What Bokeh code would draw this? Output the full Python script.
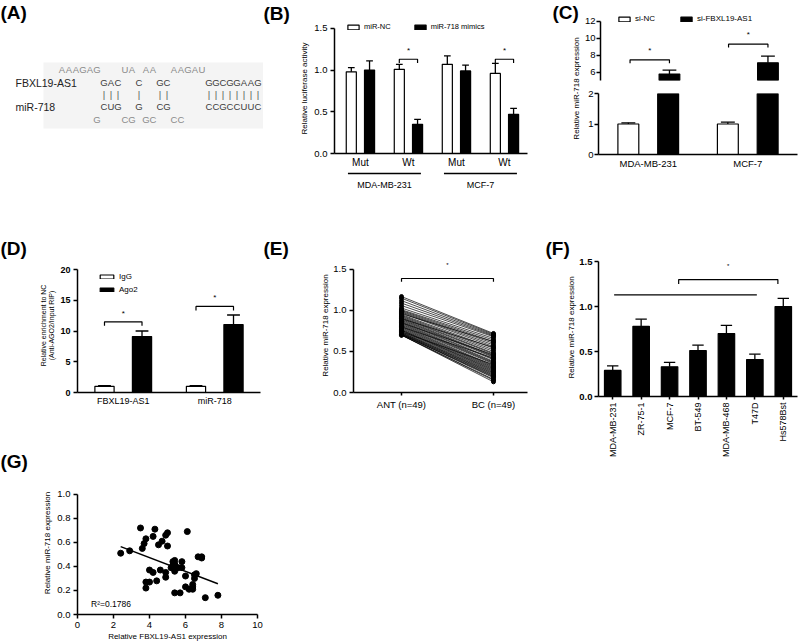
import math
from bokeh.plotting import figure
from bokeh.models import Range1d, FixedTicker, NumeralTickFormatter, Label, Legend, LegendItem, Title
from bokeh.layouts import row, column
from bokeh.embed import file_html
from bokeh.resources import INLINE
from bokeh.core.properties import value

FONT = "Liberation Sans"

# ---------------- data ----------------
A_rows = ["AAAGAG   UA AA  AAGAU",
          "      GAC  C  GC     GGCGGAAG",
          "      |||  |  ||     ||||||||",
          "      CUG  G  CG     CCGCCUUC",
          "     G   CG GC  CC"]
A_names = ["FBXL19-AS1", "miR-718"]

B_sites = ["Mut", "Wt", "Mut", "Wt"]
B_cells = ["MDA-MB-231", "MCF-7"]
B_series = ["miR-NC", "miR-718 mimics"]
B_nc = [0.98, 1.01, 1.07, 0.96]
B_nc_err = [0.05, 0.06, 0.10, 0.12]
B_mim = [1.00, 0.35, 0.99, 0.47]
B_mim_err = [0.11, 0.06, 0.07, 0.07]
B_sig_pairs = [1, 3]
B_sig_y = [1.13, 1.13]
B_yticks = [0.0, 0.5, 1.0, 1.5]

C_cells = ["MDA-MB-231", "MCF-7"]
C_series = ["si-NC", "si-FBXL19-AS1"]
C_nc = [1.0, 1.0]
C_nc_err = [0.04, 0.06]
C_si = [5.77, 7.1]
C_si_err = [0.46, 0.8]
C_sig_y = [7.45, 9.3]
C_yticks_low = [0, 1, 2]
C_yticks_up = [6, 8, 10, 12]

D_targets = ["FBXL19-AS1", "miR-718"]
D_series = ["IgG", "Ago2"]
D_igg = [1.0, 1.0]
D_igg_err = [0.1, 0.1]
D_ago = [9.1, 11.06]
D_ago_err = [0.9, 1.54]
D_sig_y = [11.5, 14.0]
D_yticks = [0, 5, 10, 15, 20]

E_groups = ["ANT (n=49)", "BC (n=49)"]
E_ant = [1.17, 1.15, 1.12, 1.09, 1.06, 1.03, 1.01, 1.00, 0.99, 0.98,
         0.97, 0.96, 0.95, 0.94, 0.93, 0.92, 0.91, 0.90, 0.90, 0.89,
         0.88, 0.87, 0.86, 0.85, 0.85, 0.84, 0.83, 0.82, 0.81, 0.80,
         0.80, 0.79, 0.78, 0.77, 0.76, 0.76, 0.75, 0.74, 0.74, 0.73,
         0.73, 0.72, 0.72, 0.71, 0.71, 0.71, 0.70, 0.70, 0.70]
E_bc = [0.72, 0.71, 0.70, 0.69, 0.68, 0.66, 0.64, 0.62, 0.60, 0.58,
        0.56, 0.62, 0.54, 0.52, 0.50, 0.48, 0.47, 0.45, 0.55, 0.44,
        0.43, 0.41, 0.40, 0.38, 0.46, 0.37, 0.36, 0.35, 0.33, 0.32,
        0.42, 0.31, 0.30, 0.29, 0.28, 0.27, 0.26, 0.25, 0.34, 0.24,
        0.23, 0.22, 0.21, 0.20, 0.19, 0.18, 0.16, 0.15, 0.13]
E_sig_y = 1.39
E_yticks = [0.0, 0.5, 1.0, 1.5]

F_lines = ["MDA-MB-231", "ZR-75-1", "MCF-7", "BT-549", "MDA-MB-468", "T47D", "Hs578Bst"]
F_vals = [0.29, 0.78, 0.33, 0.51, 0.70, 0.41, 1.00]
F_err = [0.05, 0.08, 0.05, 0.06, 0.09, 0.06, 0.09]
F_line_span = [0.05, 5.07]
F_line_y = 1.13
F_br_span = [2.32, 5.81]
F_br_y = 1.30
F_yticks = [0.0, 0.5, 1.0, 1.5]

G_x = [2.4, 2.9, 3.5, 3.6, 3.7, 3.8, 3.8, 3.8, 4.0, 4.0,
       4.2, 4.2, 4.3, 4.4, 4.5, 4.6, 4.7, 4.9, 5.0, 5.0,
       4.9, 4.9, 5.2, 5.3, 5.4, 5.4, 5.4, 5.5, 5.4, 5.6,
       5.7, 5.8, 5.8, 6.0, 6.0, 6.1, 6.2, 6.4, 6.4, 6.5,
       6.5, 6.6, 6.7, 6.9, 6.9, 7.1, 7.8, 6.4, 5.3]
G_y = [0.51, 0.53, 0.72, 0.55, 0.59, 0.63, 0.27, 0.22, 0.27, 0.37,
       0.65, 0.35, 0.71, 0.28, 0.58, 0.37, 0.61, 0.66, 0.68, 0.57,
       0.35, 0.31, 0.39, 0.44, 0.42, 0.45, 0.36, 0.39, 0.18, 0.39,
       0.18, 0.44, 0.39, 0.32, 0.23, 0.69, 0.21, 0.23, 0.25, 0.30,
       0.33, 0.34, 0.48, 0.48, 0.47, 0.14, 0.16, 0.21, 0.41]
G_fit_x = [2.4, 7.8]
G_fit_y = [0.565, 0.256]
G_r2 = "R²=0.1786"
G_xticks = [0, 2, 4, 6, 8, 10]
G_yticks = [0.0, 0.2, 0.4, 0.6, 0.8, 1.0]


# ---------------- helpers ----------------
def base_fig(w, h, l, r, t, b, xr, yr, axes=True, xaxis=True, letter=None, letter_offset=0):
    kw = dict(width=w, height=h, x_range=xr, y_range=yr, output_backend="svg",
              toolbar_location=None, title=None,
              min_border_left=l, min_border_right=r, min_border_top=t, min_border_bottom=b)
    if not axes:
        kw.update(x_axis_location=None, y_axis_location=None)
    elif not xaxis:
        kw.update(x_axis_location=None)
    p = figure(**kw)
    p.frame_align = False
    p.outline_line_color = None
    p.xgrid.visible = False
    p.ygrid.visible = False
    p.background_fill_color = "white"
    p.border_fill_color = "white"
    if letter is not None:
        p.title = Title(text=letter, align="left", offset=letter_offset, standoff=0,
                        text_font=FONT, text_font_size="19px", text_font_style="bold",
                        text_color="black")
    return p


def style_axes(p, tick_size="9.5px", bold=False, label_size="8px"):
    for ax in p.axis:
        ax.axis_line_width = 1.5
        ax.axis_line_color = "black"
        ax.major_tick_line_width = 1.5
        ax.major_tick_line_color = "black"
        ax.major_tick_out = 4
        ax.major_tick_in = 0
        ax.minor_tick_out = 0
        ax.minor_tick_in = 0
        ax.major_label_text_font = FONT
        ax.major_label_text_font_size = tick_size
        ax.major_label_text_color = "black"
        ax.major_label_text_font_style = "bold" if bold else "normal"
        ax.major_label_standoff = 3
        ax.axis_label_text_font = FONT
        ax.axis_label_text_font_size = label_size
        ax.axis_label_text_font_style = "normal"
        ax.axis_label_text_color = "black"
        ax.axis_label_standoff = 2


def cat_xaxis(p, names, size="9.5px", ticks=False):
    ax = p.xaxis[0]
    ax.ticker = FixedTicker(ticks=list(range(len(names))))
    ax.major_label_overrides = {i: n for i, n in enumerate(names)}
    ax.major_label_text_font_size = size
    ax.major_label_text_font_style = "normal"
    if not ticks:
        ax.major_tick_out = 0


def num_yaxis(p, ticks, fmt):
    ax = p.yaxis[0]
    ax.ticker = FixedTicker(ticks=ticks)
    ax.formatter = NumeralTickFormatter(format=fmt)


def bars(p, xs, tops, width, fill, bottom=0):
    return p.vbar(x=xs, top=tops, bottom=bottom, width=width, fill_color=fill,
                  line_color="black", line_width=1.2)


def err_bars(p, xs, vals, errs, half):
    ups = [v + e for v, e in zip(vals, errs)]
    p.segment(x0=xs, y0=vals, x1=xs, y1=ups, line_color="black", line_width=1.3)
    p.segment(x0=[x - half for x in xs], y0=ups, x1=[x + half for x in xs], y1=ups,
              line_color="black", line_width=1.3)


def brackets(p, x0s, x1s, ys, drop):
    p.multi_line(xs=[[a, a, b, b] for a, b in zip(x0s, x1s)],
                 ys=[[y - drop, y, y, y - drop] for y in ys],
                 line_color="black", line_width=1.2)


def stars(p, xs, ys, size="8px"):
    p.text(x=xs, y=ys, text=["*"] * len(xs), text_align="center", text_baseline="middle",
           text_font=value(FONT), text_font_size=size, text_color="black")


def legend(p, items, loc, orientation, gw, gh, lh, spacing, size):
    lg = Legend(items=[LegendItem(label=n, renderers=[r]) for n, r in items],
                location=loc, orientation=orientation, glyph_width=gw, glyph_height=gh,
                label_height=lh, label_width=10, label_standoff=4, spacing=spacing,
                padding=0, margin=0, label_text_font=FONT, label_text_font_size=size,
                label_text_color="black", background_fill_alpha=0, border_line_color=None,
                inactive_fill_alpha=0)
    p.add_layout(lg)


# ---------------- panel A ----------------
pA = base_fig(263, 210, 0, 0, 0, 0, Range1d(0, 263), Range1d(210, 0), axes=False)
pA.quad(left=43, right=263, top=62, bottom=128, fill_color="#f4f4f4", line_color=None)
A_row_y = [69, 82, 94, 106, 119]
A_row_col = ["#8a8a8a", "#3c3c3c", "#555555", "#3c3c3c", "#8a8a8a"]
A_X0, A_STEP = 61.5, 7.0
for ri, s in enumerate(A_rows):
    cols = [i for i, ch in enumerate(s) if ch != " "]
    pA.text(x=[A_X0 + c * A_STEP for c in cols], y=[A_row_y[ri]] * len(cols),
            text=[s[c] for c in cols], text_align="center", text_baseline="middle",
            text_font=value(FONT), text_font_size="9.5px", text_color=A_row_col[ri])
pA.text(x=[15, 15], y=[82, 106], text=A_names, text_align="left", text_baseline="middle",
        text_font=value(FONT), text_font_size="10.5px", text_color="#222222")
pA.add_layout(Label(x=0, y=1, text="(A)", text_font=FONT, text_font_style="bold",
                    text_font_size="19px", text_align="left", text_baseline="top",
                    text_color="black"))

# ---------------- panel B ----------------
pB = base_fig(267, 170, 71, 3, 22, 16, Range1d(-0.54, 3.48), Range1d(0, 1.559),
              letter="(B)", letter_offset=-71)
style_axes(pB)
cat_xaxis(pB, B_sites, size="10px")
num_yaxis(pB, B_yticks, "0.0")
pB.yaxis.bounds = (0, 1.5)
pB.yaxis.axis_label = "Relative luciferase activity"
bx = list(range(len(B_sites)))
off, bw = 0.19, 0.21
rB1 = bars(pB, [x - off for x in bx], B_nc, bw, "white")
rB2 = bars(pB, [x + off for x in bx], B_mim, bw, "black")
err_bars(pB, [x - off for x in bx], B_nc, B_nc_err, 0.07)
err_bars(pB, [x + off for x in bx], B_mim, B_mim_err, 0.07)
brackets(pB, [i - off for i in B_sig_pairs], [i + off for i in B_sig_pairs], B_sig_y, 0.045)
stars(pB, B_sig_pairs, [y + 0.11 for y in B_sig_y])
legend(pB, [(B_series[0], rB1), (B_series[1], rB2)], (12, 122), "horizontal", 14, 6, 8, 22, "7.5px")

pBg = base_fig(267, 42, 71, 3, 0, 0, pB.x_range, Range1d(42, 0), axes=False)
gc = [2 * g + 0.5 for g in range(len(B_cells))]
pBg.segment(x0=[c - 0.76 for c in gc], x1=[c + 0.76 for c in gc], y0=[3] * len(gc), y1=[3] * len(gc),
            line_color="black", line_width=1.3)
pBg.text(x=gc, y=[14] * len(gc), text=B_cells, text_align="center", text_baseline="middle",
         text_font=value(FONT), text_font_size="9px", text_color="black")

# ---------------- panel C (broken axis) ----------------
pClab = base_fig(51, 212, 0, 0, 0, 0, Range1d(0, 51), Range1d(0, 212), axes=False)
pClab.add_layout(Label(x=22, y=211, x_units="screen", y_units="screen", text="(C)",
                       text_font=FONT, text_font_style="bold", text_font_size="19px",
                       text_align="left", text_baseline="top", text_color="black"))
pClab.add_layout(Label(x=46, y=124, x_units="screen", y_units="screen", angle=math.pi / 2,
                       text="Relative miR-718 expression", text_font=FONT, text_font_size="8px",
                       text_align="center", text_baseline="middle", text_color="black"))
cx_range = Range1d(-0.5, 1.5)
cx = list(range(len(C_cells)))
coff, cw = 0.2, 0.21
pCu = base_fig(218, 86, 17, 2, 12, 6, cx_range, Range1d(5, 13.06), xaxis=False)
style_axes(pCu)
pCu.yaxis.major_label_standoff = 1
num_yaxis(pCu, C_yticks_up, "0")
pCu.yaxis.bounds = (5, 12)
# the si-NC bars lie entirely in the lower segment: hidden here, kept for the legend swatch
rC1 = bars(pCu, [x - coff for x in cx], C_nc, cw, "white")
rC1.visible = False
rC2 = bars(pCu, [x + coff for x in cx], C_si, cw, "black", bottom=5)
err_bars(pCu, [x + coff for x in cx], C_si, C_si_err, 0.07)
brackets(pCu, [x - coff for x in cx], [x + coff for x in cx], C_sig_y, 0.4)
stars(pCu, cx, [y + 1.1 for y in C_sig_y])
legend(pCu, [(C_series[0], rC1), (C_series[1], rC2)], (17, 57), "horizontal", 14, 6, 8, 24, "8px")

pCl = base_fig(218, 126, 17, 2, 7, 58, cx_range, Range1d(0, 2))
style_axes(pCl)
pCl.yaxis.major_label_standoff = 1
cat_xaxis(pCl, C_cells, size="9.5px")
num_yaxis(pCl, C_yticks_low, "0")
pCl.yaxis.bounds = (0, 2)
bars(pCl, [x - coff for x in cx], C_nc, cw, "white")
bars(pCl, [x + coff for x in cx], C_si, cw, "black")
err_bars(pCl, [x - coff for x in cx], C_nc, C_nc_err, 0.07)

# ---------------- panel D ----------------
pD = base_fig(263, 238, 77, 3, 48, 56, Range1d(-0.5, 1.5), Range1d(0, 21.79),
              letter="(D)", letter_offset=-77)
style_axes(pD, tick_size="9px", bold=True, label_size="7px")
cat_xaxis(pD, D_targets, size="9px")
num_yaxis(pD, D_yticks, "0")
pD.yaxis.bounds = (0, 20)
pD.yaxis.axis_label = "Relative enrichment to NC\n(Anti-AGO2/Input RIP)"
dx = list(range(len(D_targets)))
doff, dw = 0.205, 0.21
rD1 = bars(pD, [x - doff for x in dx], D_igg, dw, "white")
rD2 = bars(pD, [x + doff for x in dx], D_ago, dw, "black")
err_bars(pD, [x - doff for x in dx], D_igg, D_igg_err, 0.07)
err_bars(pD, [x + doff for x in dx], D_ago, D_ago_err, 0.07)
brackets(pD, [x - doff for x in dx], [x + doff for x in dx], D_sig_y, 0.65)
stars(pD, dx, [y + 1.4 for y in D_sig_y])
legend(pD, [(D_series[0], rD1), (D_series[1], rD2)], (21, 98), "vertical", 17, 5, 9, 4, "8px")

# ---------------- panel E ----------------
pE = base_fig(267, 243, 90, 3, 46, 63, Range1d(-0.522, 1.37), Range1d(0, 1.634),
              letter="(E)", letter_offset=-90)
style_axes(pE)
cat_xaxis(pE, E_groups, size="9.5px", ticks=True)
pE.xaxis.major_tick_out = 3
num_yaxis(pE, E_yticks, "0.0")
pE.yaxis.bounds = (0, 1.5)
pE.yaxis.axis_label = "Relative miR-718 expression"
pE.yaxis.axis_label_standoff = 0
n = len(E_ant)
pE.multi_line(xs=[[0, 1]] * n, ys=[[a, b] for a, b in zip(E_ant, E_bc)], line_color="black", line_width=0.7)
pE.scatter(x=[0] * n, y=E_ant, size=4, color="black")
pE.scatter(x=[1] * n, y=E_bc, size=4, color="black")
brackets(pE, [0], [1], [E_sig_y], 0.04)
stars(pE, [0.5], [E_sig_y + 0.16], size="6px")

# ---------------- panel F ----------------
pF = base_fig(269, 248, 68, 2, 46, 56, Range1d(-0.5, 6.5), Range1d(0, 1.534),
              letter="(F)", letter_offset=-53)
style_axes(pF, bold=True)
cat_xaxis(pF, F_lines, size="9px", ticks=True)
pF.xaxis.major_tick_out = 3
pF.xaxis.major_label_orientation = math.pi / 2
num_yaxis(pF, F_yticks, "0.0")
pF.yaxis.bounds = (0, 1.5)
pF.yaxis.axis_label = "Relative miR-718 expression"
pF.yaxis.axis_label_standoff = 0
pF.yaxis.major_label_standoff = 2
fx = list(range(len(F_lines)))
bars(pF, fx, F_vals, 0.58, "black")
err_bars(pF, fx, F_vals, F_err, 0.2)
pF.segment(x0=[F_line_span[0]], x1=[F_line_span[1]], y0=[F_line_y], y1=[F_line_y],
           line_color="black", line_width=1.2)
brackets(pF, [F_br_span[0]], [F_br_span[1]], [F_br_y], 0.05)
stars(pF, [(F_br_span[0] + F_br_span[1]) / 2], [F_br_y + 0.15], size="6px")

# ---------------- panel G ----------------
pG = base_fig(263, 195, 77, 6, 22, 29, Range1d(0, 10), Range1d(0, 1.19),
              letter="(G)", letter_offset=-77)
style_axes(pG)
pG.xaxis.ticker = FixedTicker(ticks=G_xticks)
pG.xaxis.formatter = NumeralTickFormatter(format="0")
pG.xaxis.axis_label_standoff = 1
num_yaxis(pG, G_yticks, "0.0")
pG.yaxis.bounds = (0, 1.0)
pG.xaxis.axis_label = "Relative FBXL19-AS1 expression"
pG.yaxis.axis_label = "Relative miR-718 expression"
pG.scatter(x=G_x, y=G_y, size=6, color="black")
pG.line(x=G_fit_x, y=G_fit_y, line_color="black", line_width=1.5)
pG.add_layout(Label(x=0.75, y=0.09, text=G_r2, text_font=FONT, text_font_size="8.5px",
                    text_align="left", text_baseline="middle", text_color="black"))

# ---------------- layout ----------------
col1 = column(pA, pD, pG, spacing=0)
col2 = column(pB, pBg, pE, spacing=0)
col3 = column(row(pClab, column(pCu, pCl, spacing=0), spacing=0), pF, spacing=0)
layout = row(col1, col2, col3, spacing=0)

open("out.html", "w").write(file_html(layout, INLINE))
